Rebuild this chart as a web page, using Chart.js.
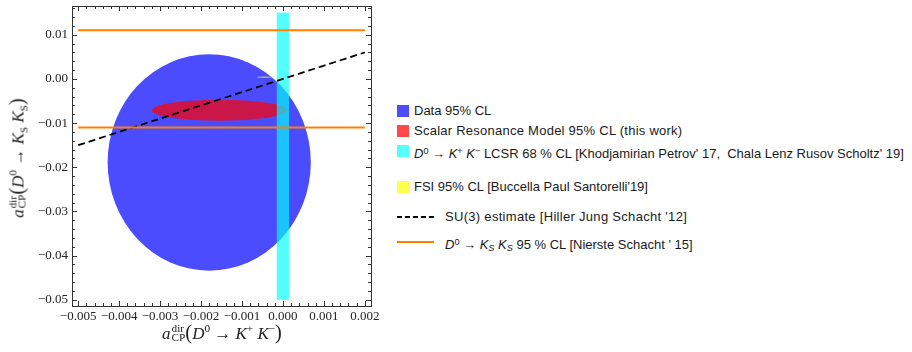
<!DOCTYPE html>
<html>
<head>
<meta charset="utf-8">
<script src="https://cdn.jsdelivr.net/npm/chart.js@4.4.0/dist/chart.umd.min.js"></script>
<style>
  body { margin: 0; background: #fff; width: 912px; height: 352px; overflow: hidden; position: relative; }
  #chartBox { position: absolute; left: 0; top: 0; width: 380px; height: 352px; }
  .axis-title { position: absolute; font-family: "Liberation Serif", "Times New Roman", serif; font-size: 17px; color: #222; white-space: nowrap; line-height: 20px; }
  .axis-title .ss { display: inline-block; font-size: 0.66em; line-height: 0.8; vertical-align: -0.25em; margin-left: 1px; text-align: left; }
  .axis-title .ss span { display: block; }
  .axis-title sup { font-size: 0.66em; }
  .axis-title sub { font-size: 0.66em; }
  .axis-title .par { font-size: 1.2em; }
  #xTitle { left: 222px; top: 331px; transform: translate(-50%, -50%); }
  #yTitle { left: 18px; top: 158px; transform: translate(-50%, -50%) rotate(-90deg); }
  .leg { position: absolute; left: 397px; height: 16px; font-family: "Liberation Sans", Arial, sans-serif; font-size: 13px; color: #1a1a1a; white-space: nowrap; line-height: 16px; }
  .leg .sw { position: absolute; left: 0; top: 2px; width: 12px; height: 12px; }
  .leg .txt { position: absolute; left: 17px; top: 0; }
  .leg .ln { position: absolute; left: 0; top: 7px; width: 37px; height: 2px; }
  .leg .txt2 { position: absolute; left: 48px; top: 0; }
  .leg sup { font-size: 0.7em; vertical-align: 0.45em; }
  .leg sub { font-size: 0.7em; vertical-align: -0.25em; }
</style>
</head>
<body>
<div id="chartBox"><canvas id="plot" width="380" height="352"></canvas></div>

<div id="xTitle" class="axis-title"><i>a</i><span class="ss"><span>dir</span><span>CP</span></span><span class="par">(</span><i>D</i><sup>0</sup> → <i>K</i><sup>+</sup> <i>K</i><sup>−</sup><span class="par">)</span></div>
<div id="yTitle" class="axis-title"><i>a</i><span class="ss"><span>dir</span><span>CP</span></span><span class="par">(</span><i>D</i><sup>0</sup> → <i>K</i><sub>S</sub> <i>K</i><sub>S</sub><span class="par">)</span></div>

<div class="leg" style="top:103px"><span class="sw" style="background:#4d4dff"></span><span class="txt">Data 95% CL</span></div>
<div class="leg" style="top:123px"><span class="sw" style="background:#ff4a4a"></span><span class="txt" style="letter-spacing:0.25px">Scalar Resonance Model 95% CL (this work)</span></div>
<div class="leg" style="top:143px"><span class="sw" style="background:#55ffff"></span><span class="txt"><i>D</i><sup>0</sup> → <i>K</i><sup>+</sup> <i>K</i><sup>−</sup> LCSR 68 % CL [Khodjamirian Petrov' 17, &nbsp;Chala Lenz Rusov Scholtz' 19]</span></div>
<div class="leg" style="top:179px"><span class="sw" style="background:#ffff4d"></span><span class="txt">FSI 95% CL [Buccella Paul Santorelli'19]</span></div>
<div class="leg" style="top:209px"><span class="ln" style="background:repeating-linear-gradient(90deg,#000 0 5px,transparent 5px 8px)"></span><span class="txt2" style="letter-spacing:0.3px">SU(3) estimate [Hiller Jung Schacht '12]</span></div>
<div class="leg" style="top:234px"><span class="ln" style="background:#ff8000;height:1.6px"></span><span class="txt2"><i>D</i><sup>0</sup> → <i>K<sub>S</sub></i> <i>K<sub>S</sub></i> 95 % CL [Nierste Schacht ' 15]</span></div>

<script>
// axis ranges and ticks
const xRange = [-0.00515, 0.00215];
const yRange = [-0.0514, 0.0165];
const xTicks = [-0.005, -0.004, -0.003, -0.002, -0.001, 0.000, 0.001, 0.002];
const yTicks = [-0.05, -0.04, -0.03, -0.02, -0.01, 0.00, 0.01];

// confidence regions (ellipses): Data, Scalar Resonance Model, FSI
const regionNames = ['Data 95% CL', 'Scalar Resonance Model 95% CL', 'FSI 95% CL'];
const regionCenterX = [-0.0018, -0.00155, -0.00046];
const regionCenterY = [-0.0189, -0.0071, 0.0004];
const regionRadiusX = [0.00248, 0.00165, 0.00018];
const regionRadiusY = [0.0245, 0.0024, 0.00015];
const regionColors = ['rgba(0,0,255,0.7)', 'rgba(255,0,0,0.71)', 'rgba(255,255,0,0.7)'];

// LCSR band for D0 -> K+ K-
const lcsrX = [-0.00015, 0.00015];
const lcsrY = [-0.05, 0.015];

// SU(3) estimate line
const su3X = [-0.005, 0.002];
const su3Y = [-0.015, 0.006];

// D0 -> KS KS 95% CL bounds
const ksksX = [-0.005, 0.002];
const ksksUpper = [0.011, 0.011];
const ksksLower = [-0.011, -0.011];

const toPoints = (xs, ys) => xs.map((x, i) => ({ x, y: ys[i] }));

const regionsPlugin = {
  id: 'regions',
  beforeDatasetsDraw(chart) {
    const { ctx, chartArea, scales: { x, y } } = chart;
    ctx.save();
    ctx.beginPath();
    ctx.rect(chartArea.left, chartArea.top, chartArea.right - chartArea.left, chartArea.bottom - chartArea.top);
    ctx.clip();
    regionNames.forEach((name, i) => {
      const cx = x.getPixelForValue(regionCenterX[i]);
      const cy = y.getPixelForValue(regionCenterY[i]);
      const rx = Math.abs(x.getPixelForValue(regionCenterX[i] + regionRadiusX[i]) - cx);
      const ry = Math.abs(y.getPixelForValue(regionCenterY[i] + regionRadiusY[i]) - cy);
      ctx.beginPath();
      ctx.ellipse(cx, cy, rx, ry, 0, 0, Math.PI * 2);
      ctx.fillStyle = regionColors[i];
      ctx.fill();
    });
    const x0 = x.getPixelForValue(lcsrX[0]);
    const x1 = x.getPixelForValue(lcsrX[1]);
    const y0 = y.getPixelForValue(lcsrY[1]);
    const y1 = y.getPixelForValue(lcsrY[0]);
    ctx.fillStyle = 'rgba(0,255,255,0.67)';
    ctx.fillRect(x0, y0, x1 - x0, y1 - y0);
    ctx.restore();
  }
};

// frame with inside ticks on all four sides
const framePlugin = {
  id: 'frame',
  afterDraw(chart) {
    const { ctx, chartArea: a, scales: { x, y } } = chart;
    ctx.save();
    ctx.strokeStyle = '#333';
    ctx.lineWidth = 1;
    ctx.strokeRect(Math.round(a.left) + 0.5, Math.round(a.top) + 0.5, Math.round(a.right - a.left), Math.round(a.bottom - a.top));
    ctx.beginPath();
    for (let k = -26; k <= 11; k++) {
      const v = k * 0.0002;
      if (v < xRange[0] || v > xRange[1]) continue;
      const len = k % 5 === 0 ? 5 : 3;
      const px = Math.round(x.getPixelForValue(v)) + 0.5;
      ctx.moveTo(px, a.bottom); ctx.lineTo(px, a.bottom - len);
      ctx.moveTo(px, a.top); ctx.lineTo(px, a.top + len);
    }
    for (let k = -26; k <= 9; k++) {
      const v = k * 0.002;
      if (v < yRange[0] || v > yRange[1]) continue;
      const len = k % 5 === 0 ? 5 : 3;
      const py = Math.round(y.getPixelForValue(v)) + 0.5;
      ctx.moveTo(a.left, py); ctx.lineTo(a.left + len, py);
      ctx.moveTo(a.right, py); ctx.lineTo(a.right - len, py);
    }
    ctx.stroke();
    ctx.restore();
  }
};

const fmt = (v, d) => v.toFixed(d).replace('-', '\u2212');

new Chart(document.getElementById('plot'), {
  type: 'scatter',
  data: {
    datasets: [
      { label: 'KS KS upper', data: toPoints(ksksX, ksksUpper), showLine: true, borderColor: '#ff8000', borderWidth: 2, pointRadius: 0 },
      { label: 'KS KS lower', data: toPoints(ksksX, ksksLower), showLine: true, borderColor: '#ff8000', borderWidth: 2, pointRadius: 0 },
      { label: 'SU(3) estimate', data: toPoints(su3X, su3Y), showLine: true, borderColor: '#000', borderWidth: 1.8, borderDash: [7, 4], pointRadius: 0 }
    ]
  },
  options: {
    responsive: false,
    animation: false,
    layout: { padding: { top: 6, right: 9, left: 0, bottom: 0 } },
    plugins: { legend: { display: false }, tooltip: { enabled: false } },
    scales: {
      x: {
        type: 'linear', min: xRange[0], max: xRange[1],
        grid: { display: false, drawTicks: false }, border: { display: false },
        afterBuildTicks: s => { s.ticks = xTicks.map(v => ({ value: v })); },
        afterFit: s => { s.height = 46; s.paddingLeft = 0; s.paddingRight = 0; },
        ticks: { padding: 3, maxRotation: 0, autoSkip: false, color: '#222', font: { family: '"Liberation Serif", serif', size: 13 }, callback: v => fmt(v, 3) }
      },
      y: {
        type: 'linear', min: yRange[0], max: yRange[1],
        grid: { display: false, drawTicks: false }, border: { display: false },
        afterBuildTicks: s => { s.ticks = yTicks.map(v => ({ value: v })); },
        afterFit: s => { s.width = 72; s.paddingTop = 0; s.paddingBottom = 0; },
        ticks: { padding: 4, autoSkip: false, color: '#222', font: { family: '"Liberation Serif", serif', size: 13 }, callback: v => fmt(v, 2) }
      }
    }
  },
  plugins: [regionsPlugin, framePlugin]
});
</script>
</body>
</html>
